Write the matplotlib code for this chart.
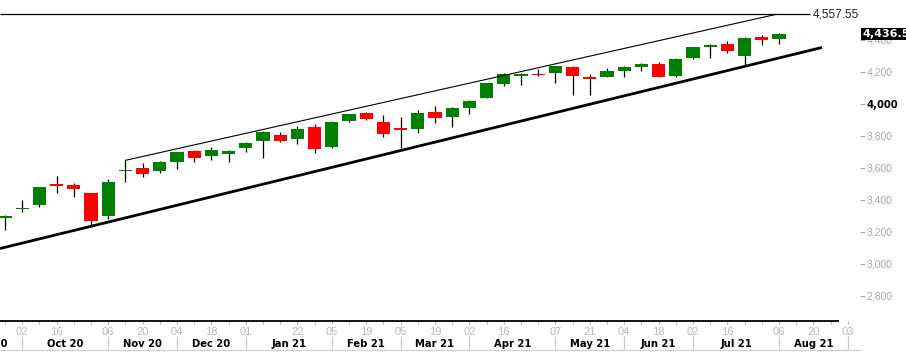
import matplotlib
matplotlib.use("Agg")
import matplotlib.pyplot as plt
from matplotlib.transforms import blended_transform_factory

# ---- data: weekly S&P 500 candles (week ending) ----
weeks = ["2020-09-25", "2020-10-02", "2020-10-09", "2020-10-16", "2020-10-23", "2020-10-30",
         "2020-11-06", "2020-11-13", "2020-11-20", "2020-11-27", "2020-12-04", "2020-12-11",
         "2020-12-18", "2020-12-24", "2020-12-31", "2021-01-08", "2021-01-15", "2021-01-22",
         "2021-01-29", "2021-02-05", "2021-02-12", "2021-02-19", "2021-02-26", "2021-03-05",
         "2021-03-12", "2021-03-19", "2021-03-26", "2021-04-01", "2021-04-09", "2021-04-16",
         "2021-04-23", "2021-04-30", "2021-05-07", "2021-05-14", "2021-05-21", "2021-05-28",
         "2021-06-04", "2021-06-11", "2021-06-18", "2021-06-25", "2021-07-02", "2021-07-09",
         "2021-07-16", "2021-07-23", "2021-07-30", "2021-08-06"]
opens = [3285.57, 3341.21, 3367.27, 3500.02, 3493.50, 3441.42, 3296.20, 3583.04, 3600.16, 3579.31,
         3634.18, 3705.98, 3675.27, 3684.28, 3723.03, 3764.61, 3803.14, 3781.88, 3851.68, 3731.17,
         3892.59, 3939.61, 3885.55, 3842.51, 3844.39, 3949.57, 3916.48, 3971.09, 4034.44, 4124.71,
         4179.80, 4185.03, 4191.98, 4228.29, 4169.14, 4168.61, 4206.05, 4229.34, 4248.87, 4173.40,
         4284.90, 4356.46, 4372.41, 4296.40, 4416.38, 4406.86]
highs = [3306.88, 3397.18, 3482.34, 3549.85, 3502.42, 3441.42, 3529.05, 3645.99, 3628.51, 3644.31,
         3699.20, 3712.39, 3726.70, 3712.39, 3760.20, 3826.69, 3823.60, 3861.45, 3870.90, 3894.56,
         3937.23, 3950.43, 3931.00, 3914.50, 3960.27, 3983.87, 3978.19, 4020.63, 4129.48, 4191.31,
         4194.17, 4218.78, 4238.04, 4238.04, 4186.72, 4220.00, 4233.45, 4255.00, 4262.00, 4286.12,
         4355.00, 4371.60, 4393.68, 4415.18, 4429.97, 4440.82]
lows = [3209.45, 3323.69, 3354.00, 3440.45, 3415.00, 3233.94, 3279.74, 3511.91, 3540.00, 3565.86,
        3594.39, 3633.40, 3647.49, 3636.48, 3699.20, 3662.71, 3762.00, 3749.62, 3694.12, 3725.62,
        3884.94, 3898.81, 3789.54, 3723.34, 3816.00, 3880.00, 3853.50, 3937.00, 4034.44, 4112.00,
        4119.00, 4174.85, 4127.00, 4056.88, 4056.00, 4166.00, 4167.59, 4206.00, 4164.40, 4164.40,
        4281.00, 4287.00, 4319.00, 4233.13, 4369.00, 4375.00]
closes = [3298.46, 3348.42, 3477.14, 3483.81, 3465.39, 3269.96, 3509.44, 3585.15, 3557.54, 3638.35,
          3699.12, 3663.46, 3709.41, 3703.06, 3756.07, 3824.68, 3768.25, 3841.47, 3714.24, 3886.83,
          3934.83, 3906.71, 3811.15, 3841.94, 3943.34, 3913.10, 3974.54, 4019.87, 4128.80, 4185.47,
          4180.17, 4181.17, 4232.60, 4173.85, 4155.86, 4204.11, 4229.89, 4247.44, 4166.45, 4280.70,
          4352.34, 4369.55, 4327.16, 4411.79, 4395.26, 4436.52]

# trend lines (week index, price)
lower_line = [(5, 3233.94), (43, 4233.13)]
upper_line = [(7, 3645.99), (44.8, 4557.55)]
level_price = 4557.55
level_label = "4,557.55"
last_label = "4,436.5"

# axis labels
week_tick_labels = {1: "02", 3: "16", 6: "06", 8: "20", 10: "04", 12: "18", 14: "01", 17: "22",
                    19: "05", 21: "19", 23: "05", 25: "19", 27: "02", 29: "16", 32: "07", 34: "21",
                    36: "04", 38: "18", 40: "02", 42: "16", 45: "06", 47: "20", 49: "03"}
month_starts = [-3, 1, 6, 10, 14, 19, 23, 27, 32, 36, 40, 45, 49]
month_names = ["Sep 20", "Oct 20", "Nov 20", "Dec 20", "Jan 21", "Feb 21", "Mar 21", "Apr 21",
               "May 21", "Jun 21", "Jul 21", "Aug 21"]
y_ticks = [2800, 3000, 3200, 3400, 3600, 3800, 4000, 4200, 4400]
y_tick_labels = ["2,800", "3,000", "3,200", "3,400", "3,600", "3,800", "4,000", "4,200", "4,400"]

# ---- figure ----
W, H = 906, 352
fig = plt.figure(figsize=(W / 100, H / 100), dpi=100)
ax_w_px = 860
ax_h_px = 321
ax = fig.add_axes([0, (H - ax_h_px) / H, ax_w_px / W, ax_h_px / H])
px = 17.2
x0 = -5 / px
ax.set_xlim(x0, x0 + ax_w_px / px)
ax.set_ylim(2642, 4648)
for s in ax.spines.values():
    s.set_visible(False)

GREEN = "#008000"
RED = "#ff0000"
bw = 0.76
for i in range(len(opens)):
    o, h, l, c = opens[i], highs[i], lows[i], closes[i]
    col = GREEN if c >= o else RED
    ax.vlines(i, l, h, color="black", lw=0.9, zorder=2)
    bot = min(o, c)
    hgt = max(abs(c - o), 8)
    if abs(c - o) < 8:
        bot = (o + c) / 2 - 4
    ax.bar(i, hgt, bottom=bot, width=bw, color=col, edgecolor="none", zorder=3)

# trend lines
(lx1, ly1), (lx2, ly2) = lower_line
slope_l = (ly2 - ly1) / (lx2 - lx1)
xa, xb = x0, 47.5
ax.plot([xa, xb], [ly1 + slope_l * (xa - lx1), ly1 + slope_l * (xb - lx1)],
        color="black", lw=2.0, zorder=4, solid_capstyle="butt")
(ux1, uy1), (ux2, uy2) = upper_line
ax.plot([ux1, ux2], [uy1, uy2], color="black", lw=0.8, zorder=4)

# horizontal level
lvl_end = (810 - 5) / px
ax.hlines(level_price, x0, lvl_end, color="black", lw=0.9, zorder=4)
ax.text(lvl_end + 0.18, level_price, level_label, ha="left", va="center",
        fontsize=8.5, color="#222222", family="Liberation Sans")

# x axis: weekly ticks with every-other labels
ax.set_xticks(list(range(0, 50)))
ax.set_xticklabels([week_tick_labels.get(i, "") for i in range(0, 50)])
ax.tick_params(axis="x", direction="out", length=2.5, width=0.8, color="#b5b5b5",
               labelcolor="#b8b8b8", labelsize=8, pad=1.5)
for lab in ax.get_xticklabels():
    lab.set_family("Liberation Sans")

tr = ax.get_xaxis_transform()
# bottom black line
ax.plot([0, 839 / ax_w_px], [0, 0], transform=ax.transAxes, color="black", lw=1.3,
        clip_on=False, zorder=5, solid_capstyle="butt")
# month separators and labels
ymin_sep = -(349 - ax_h_px) / ax_h_px
ymax_sep = -(336 - ax_h_px) / ax_h_px
ax.vlines(month_starts[1:], ymin_sep, ymax_sep, transform=tr, color="#c8c8c8", lw=0.9,
          clip_on=False)
for k, name in enumerate(month_names):
    cx = (month_starts[k] + month_starts[k + 1]) / 2
    ax.text(cx, -(344 - ax_h_px) / ax_h_px, name, transform=tr, ha="center", va="center",
            fontsize=7.2, fontweight="bold", color="black", family="DejaVu Sans", clip_on=False)
ax.plot([0, 1], [-(349.5 - ax_h_px) / ax_h_px] * 2, transform=ax.transAxes, color="#d0d0d0",
        lw=0.9, clip_on=False)

# y axis on right
ax.yaxis.tick_right()
ax.set_yticks(y_ticks)
ax.set_yticklabels(y_tick_labels)
ax.tick_params(axis="y", direction="out", length=3.5, width=0.8, color="#a8a8a8",
               labelcolor="#a8a8a8", labelsize=7.5, pad=1.2)
for t, lab in zip(ax.yaxis.get_major_ticks(), ax.get_yticklabels()):
    lab.set_family("Liberation Sans")
    if lab.get_text() == "4,000":
        lab.set_fontweight("bold")
        lab.set_color("black")
        lab.set_family("DejaVu Sans")
        lab.set_fontsize(7.2)
        t.tick2line.set_color("black")

# last price box
ytr = blended_transform_factory(ax.transAxes, ax.transData)
ax.text(1 + 2.5 / ax_w_px, closes[-1], last_label, transform=ytr, ha="left", va="center",
        fontsize=8, fontweight="bold", color="white", family="DejaVu Sans", clip_on=False,
        zorder=10, bbox=dict(boxstyle="square,pad=0.12", fc="black", ec="none"))

fig.savefig("out.png", dpi=100)
